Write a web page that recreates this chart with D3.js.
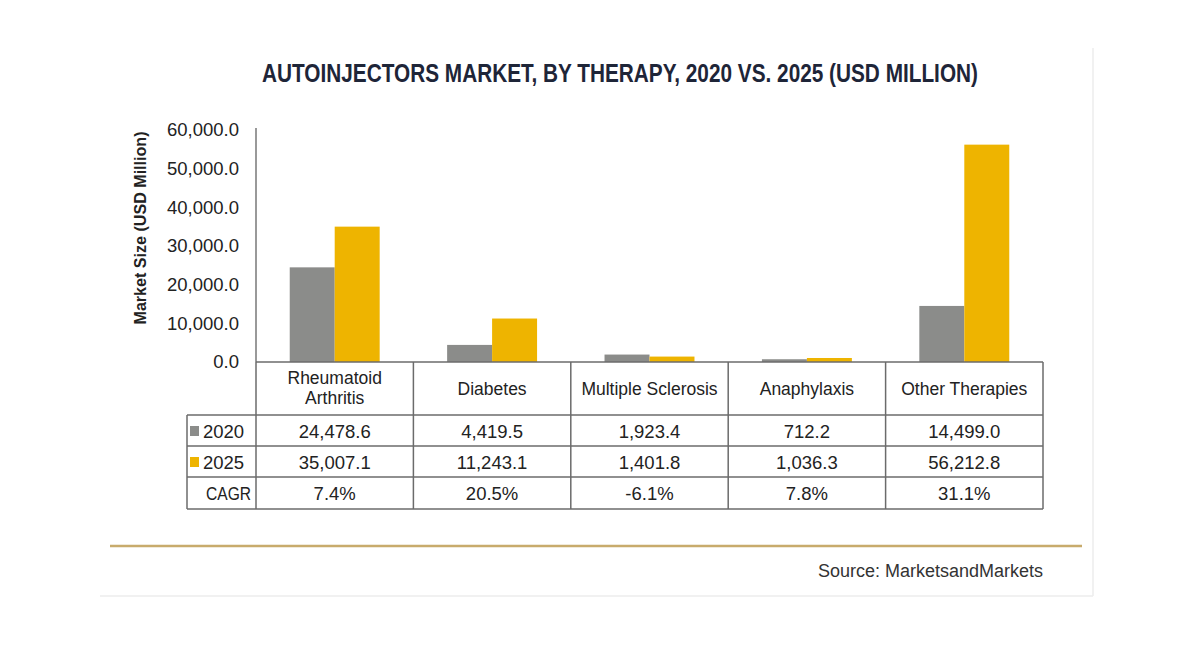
<!DOCTYPE html>
<html><head><meta charset="utf-8">
<script src="https://cdn.jsdelivr.net/npm/d3@7"></script>
<style>
body{margin:0;background:#fff;}
svg text{font-family:"Liberation Sans Narrow","Liberation Sans",Arial,sans-serif;fill:#222;}
</style></head>
<body><svg id="c" width="1200" height="650"></svg>
<script>
const categories = ["Rheumatoid Arthritis","Diabetes","Multiple Sclerosis","Anaphylaxis","Other Therapies"];
const categoryLines = [["Rheumatoid","Arthritis"],["Diabetes"],["Multiple Sclerosis"],["Anaphylaxis"],["Other Therapies"]];
const series = ["2020","2025"];
const values2020 = [24478.6, 4419.5, 1923.4, 712.2, 14499.0];
const values2025 = [35007.1, 11243.1, 1401.8, 1036.3, 56212.8];
const cagr = ["7.4%","20.5%","-6.1%","7.8%","31.1%"];
const yTicks = [0,10000,20000,30000,40000,50000,60000];
const colors = {"2020":"#8b8c8a","2025":"#eeb400"};
const title = "AUTOINJECTORS MARKET, BY THERAPY, 2020 VS. 2025 (USD MILLION)";

const svg = d3.select("#c");
// panel
svg.append("line").attr("x1",1093).attr("x2",1093).attr("y1",48).attr("y2",596).attr("stroke","#ececec").attr("stroke-width",1.5);
svg.append("line").attr("x1",100).attr("x2",1093).attr("y1",596).attr("y2",596).attr("stroke","#ececec").attr("stroke-width",1.5);

svg.append("text").attr("x",620).attr("y",82).attr("text-anchor","middle")
  .attr("font-size",25).attr("font-weight","bold").style("fill","#1e2538")
  .attr("textLength",716).attr("lengthAdjust","spacingAndGlyphs").text(title);

const x = d3.scaleBand().domain(categories).range([256,1043]).padding(0);
const xs = d3.scaleBand().domain(series).range([0,x.bandwidth()]).paddingInner(0).paddingOuter(0.75);
const y = d3.scaleLinear().domain([0,60000]).range([362,130]);

// y axis
const ya = svg.append("g").attr("transform","translate(256,0)")
  .call(d3.axisLeft(y).tickValues(yTicks).tickSize(0).tickPadding(17).tickFormat(d3.format(",.1f")));
ya.select(".domain").attr("stroke","#777").attr("stroke-width",1.5).attr("d","M0,128V362");
ya.selectAll("text").attr("font-size",18.5).style("fill","#222").attr("font-family",null);

svg.append("text").attr("transform","translate(146,228) rotate(-90)").attr("text-anchor","middle")
  .attr("font-size",16).attr("font-weight","bold")
  .attr("textLength",193).attr("lengthAdjust","spacingAndGlyphs").text("Market Size (USD Million)");

// bars
const data = categories.map((c,i)=>({c, v:{"2020":values2020[i],"2025":values2025[i]}}));
const g = svg.append("g");
data.forEach(d=>{
  series.forEach(s=>{
    g.append("rect").attr("x",x(d.c)+xs(s)).attr("width",xs.bandwidth())
      .attr("y",y(d.v[s])).attr("height",y(0)-y(d.v[s])).attr("fill",colors[s]);
  });
});

// table
const rows = [362,415,446,477,509];
const tg = svg.append("g").attr("stroke","#6b6b6b").attr("stroke-width",1.5).attr("fill","none");
tg.append("line").attr("x1",256).attr("x2",1043).attr("y1",362).attr("y2",362);
rows.slice(1).forEach(r=>tg.append("line").attr("x1",187).attr("x2",1043).attr("y1",r).attr("y2",r));
categories.forEach(c=>tg.append("line").attr("x1",x(c)).attr("x2",x(c)).attr("y1",362).attr("y2",509));
tg.append("line").attr("x1",1043).attr("x2",1043).attr("y1",362).attr("y2",509);
tg.append("line").attr("x1",187).attr("x2",187).attr("y1",415).attr("y2",509);

const fs = 18.5;
categories.forEach((c,i)=>{
  const cx = x(c)+x.bandwidth()/2;
  const lines = categoryLines[i];
  const t = svg.append("text").attr("x",cx).attr("text-anchor","middle").attr("font-size",17.5);
  const startY = lines.length===1 ? 395 : 384;
  lines.forEach((l,j)=>t.append("tspan").attr("x",cx).attr("y",startY+j*20).text(l));
  svg.append("text").attr("x",cx).attr("y",438).attr("text-anchor","middle").attr("font-size",fs).text(d3.format(",.1f")(values2020[i]));
  svg.append("text").attr("x",cx).attr("y",469).attr("text-anchor","middle").attr("font-size",fs).text(d3.format(",.1f")(values2025[i]));
  svg.append("text").attr("x",cx).attr("y",500).attr("text-anchor","middle").attr("font-size",fs).text(cagr[i]);
});
// legend column
series.forEach((s,i)=>{
  const yy = [430,461][i];
  svg.append("rect").attr("x",190).attr("y",yy-4).attr("width",9).attr("height",10).attr("fill",colors[s]);
  svg.append("text").attr("x",203).attr("y",yy+8).attr("font-size",fs).text(s);
});
svg.append("text").attr("x",251).attr("y",500).attr("text-anchor","end").attr("font-size",fs)
  .attr("textLength",45).attr("lengthAdjust","spacingAndGlyphs").text("CAGR");

// footer
svg.append("line").attr("x1",110).attr("x2",1082).attr("y1",546).attr("y2",546).attr("stroke","#c8ab6c").attr("stroke-width",2.5);
svg.append("text").attr("x",1043).attr("y",577).attr("text-anchor","end").attr("font-size",18).style("fill","#333").text("Source: MarketsandMarkets");
</script></body></html>
